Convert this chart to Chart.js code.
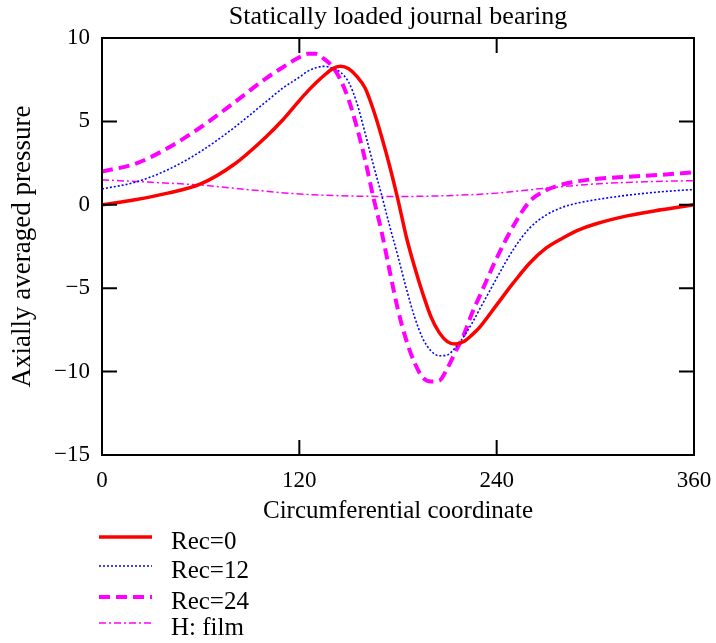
<!DOCTYPE html>
<html>
<head>
<meta charset="utf-8">
<title>Statically loaded journal bearing</title>
<script src="https://cdn.jsdelivr.net/npm/chart.js@4.4.0/dist/chart.umd.min.js"></script>
<style>
  body { margin: 0; background: #fff; }
  canvas { display: block; }
</style>
</head>
<body>
<canvas id="chart" width="716" height="643"></canvas>
<script>
// --- Data ---
const angle = [0, 20, 40, 60, 80, 100, 110, 120, 125, 130, 135, 140, 145, 150, 155, 160, 165, 170, 175, 180,
               185, 190, 195, 200, 205, 210, 215, 220, 225, 230, 240, 250, 260, 270, 280, 290, 300, 320, 340, 360];

const rec0 = [0, 0.3, 0.7, 1.25, 2.4, 4.1, 5.1, 6.25, 6.8, 7.3, 7.75, 8.15, 8.3, 8.15, 7.7, 7.0, 5.7, 4.1, 2.3, 0.3,
              -1.9, -3.7, -5.3, -6.7, -7.65, -8.2, -8.35, -8.2, -7.8, -7.3, -6.0, -4.7, -3.5, -2.6, -2.0, -1.5, -1.15, -0.65, -0.3, 0];

const rec12 = [0.95, 1.35, 2.1, 3.2, 4.6, 6.2, 7.0, 7.65, 8.0, 8.22, 8.3, 8.2, 7.95, 7.35, 6.1, 4.3, 2.4, 0.6, -1.3, -3.1,
               -5.0, -6.7, -8.0, -8.75, -9.05, -9.0, -8.55, -7.9, -7.1, -6.2, -4.4, -2.7, -1.4, -0.62, -0.15, 0.12, 0.3, 0.58, 0.78, 0.92];

const rec24 = [2.0, 2.45, 3.4, 4.65, 6.1, 7.6, 8.25, 8.85, 9.05, 9.05, 8.75, 8.3, 7.5, 6.3, 4.65, 2.7, 0.45, -1.6, -4.0, -6.3,
               -8.1, -9.45, -10.35, -10.6, -10.55, -9.8, -8.8, -7.8, -6.5, -5.4, -3.2, -1.3, 0.2, 0.87, 1.22, 1.42, 1.55, 1.68, 1.8, 1.95];

const filmAngle = [0, 30, 60, 90, 120, 150, 180, 210, 240, 270, 300, 330, 360];
const film = [1.5, 1.35, 1.18, 0.9, 0.65, 0.53, 0.5, 0.55, 0.7, 1.0, 1.25, 1.38, 1.45];

const xTicks = [0, 120, 240, 360];
const yTicks = [-15, -10, -5, 0, 5, 10];

const chartTitle = 'Statically loaded journal bearing';
const SERIF = '"Liberation Serif", "Times New Roman", serif';

function pairs(xs, ys) {
    return xs.map((x, i) => ({ x: x, y: ys[i] }));
}

function fmt(v) {
    return v < 0 ? '\u2212' + Math.abs(v) : String(v);
}

// title over the plot box, frame, inward ticks on all four sides, stacked legend below
const framePlugin = {
    id: 'frame',
    afterDraw(chart) {
        const { ctx, chartArea: a, scales } = chart;
        const len = 15;
        ctx.save();

        ctx.fillStyle = '#000';
        ctx.font = '26px ' + SERIF;
        ctx.textAlign = 'center';
        ctx.textBaseline = 'middle';
        ctx.fillText(chartTitle, (a.left + a.right) / 2, 17);

        ctx.strokeStyle = '#000';
        ctx.lineWidth = 2;
        ctx.strokeRect(a.left, a.top, a.right - a.left, a.bottom - a.top);
        ctx.beginPath();
        xTicks.forEach(v => {
            const px = scales.x.getPixelForValue(v);
            ctx.moveTo(px, a.bottom); ctx.lineTo(px, a.bottom - len);
            ctx.moveTo(px, a.top); ctx.lineTo(px, a.top + len);
        });
        yTicks.forEach(v => {
            const py = scales.y.getPixelForValue(v);
            ctx.moveTo(a.left, py); ctx.lineTo(a.left + len, py);
            ctx.moveTo(a.right, py); ctx.lineTo(a.right - len, py);
        });
        ctx.stroke();

        // legend
        const rows = [537, 566, 597, 623];
        ctx.font = '25px ' + SERIF;
        ctx.textAlign = 'left';
        chart.data.datasets.forEach((ds, i) => {
            const y = rows[i];
            ctx.beginPath();
            ctx.strokeStyle = ds.borderColor;
            ctx.lineWidth = ds.borderWidth;
            ctx.setLineDash(ds.borderDash || []);
            ctx.moveTo(99, y);
            ctx.lineTo(152, y);
            ctx.stroke();
            ctx.setLineDash([]);
            ctx.fillText(ds.label, 171, y + 5);
        });
        ctx.restore();
    }
};

const ctx = document.getElementById('chart').getContext('2d');
const chart = new Chart(ctx, {
    type: 'line',
    data: {
        datasets: [{
            label: 'Rec=0',
            data: pairs(angle, rec0),
            borderColor: '#ff0000',
            borderWidth: 3.5,
            pointRadius: 0,
            cubicInterpolationMode: 'monotone'
        }, {
            label: 'Rec=12',
            data: pairs(angle, rec12),
            borderColor: '#0000ff',
            borderWidth: 1.6,
            borderDash: [2, 2],
            pointRadius: 0,
            cubicInterpolationMode: 'monotone'
        }, {
            label: 'Rec=24',
            data: pairs(angle, rec24),
            borderColor: '#ff00ff',
            borderWidth: 4,
            borderDash: [11, 6],
            pointRadius: 0,
            cubicInterpolationMode: 'monotone'
        }, {
            label: 'H: film',
            data: pairs(filmAngle, film),
            borderColor: '#ff00ff',
            borderWidth: 1.5,
            borderDash: [7, 3, 2, 3],
            pointRadius: 0,
            cubicInterpolationMode: 'monotone'
        }]
    },
    options: {
        responsive: false,
        animation: false,
        layout: { padding: { left: 0, right: 22, top: 38, bottom: 108 } },
        plugins: {
            legend: { display: false },
            tooltip: { enabled: false },
            title: { display: false }
        },
        scales: {
            x: {
                type: 'linear',
                min: 0,
                max: 360,
                afterFit(s) { s.height = 80; s.paddingLeft = 0; s.paddingRight = 0; },
                afterBuildTicks(s) { s.ticks = xTicks.map(v => ({ value: v })); },
                ticks: { color: '#000', padding: 12, maxRotation: 0, font: { family: SERIF, size: 23 }, callback: fmt },
                grid: { display: false, drawTicks: false },
                border: { display: false },
                title: {
                    display: true,
                    text: 'Circumferential coordinate',
                    color: '#000',
                    font: { family: SERIF, size: 25 },
                    padding: { top: 0, bottom: 9 }
                }
            },
            y: {
                min: -15,
                max: 10,
                afterFit(s) { s.width = 102; s.paddingTop = 0; s.paddingBottom = 0; },
                afterBuildTicks(s) { s.ticks = yTicks.map(v => ({ value: v })); },
                ticks: { color: '#000', padding: 12, font: { family: SERIF, size: 23 }, callback: fmt },
                grid: { display: false, drawTicks: false },
                border: { display: false },
                title: {
                    display: true,
                    text: 'Axially averaged pressure',
                    color: '#000',
                    font: { family: SERIF, size: 27 },
                    padding: { top: 7, bottom: 0 }
                }
            }
        }
    },
    plugins: [framePlugin]
});
</script>
</body>
</html>
